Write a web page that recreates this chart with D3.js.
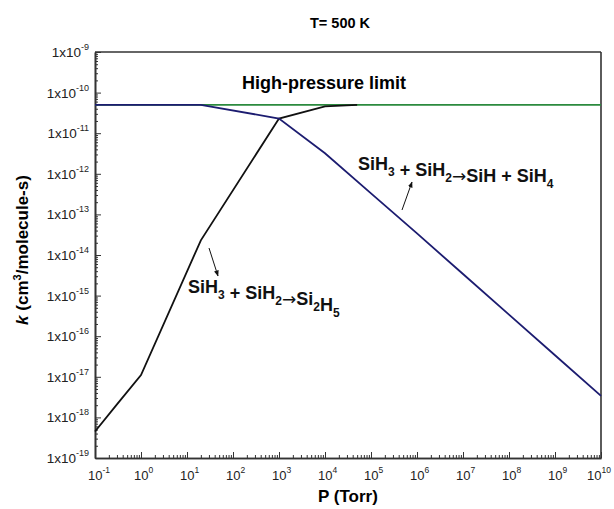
<!DOCTYPE html>
<html>
<head>
<meta charset="utf-8">
<script src="https://cdn.jsdelivr.net/npm/d3@7"></script>
<style>
  body { margin: 0; background: #fff; }
  svg { display: block; font-family: 'Liberation Sans', Arial, sans-serif; }
</style>
</head>
<body>
<svg id="chart" width="614" height="509"></svg>
<script>
// pressure (Torr) and rate constant (cm3/molecule-s)
const hpP = [1e-1, 1e10]
const hpK = [5e-11, 5e-11]

const si2h5P = [0.1, 0.3, 1, 20, 1000, 1e4, 5e4]
const si2h5K = [4.5e-19, 2.1e-18, 1.1e-17, 2.3e-14, 2.3e-11, 4.6e-11, 5e-11]

const sihP = [0.1, 20, 1000, 1e4, 1e5, 1e6, 1e7, 1e8, 1e9, 1e10]
const sihK = [5e-11, 5e-11, 2.3e-11, 3.2e-12, 3.3e-13, 3.4e-14, 3.4e-15, 3.4e-16, 3.4e-17, 3.4e-18]

const xExps = [-1, 0, 1, 2, 3, 4, 5, 6, 7, 8, 9, 10]
const yExps = [-9, -10, -11, -12, -13, -14, -15, -16, -17, -18, -19]

const svg = d3.select('#chart')
const W = 614
const pLeft = 95, pRight = 601, pTop = 52, pBottom = 458

const x = d3.scaleLog().domain([1e-1, 1e10]).range([pLeft, pRight])
const y = d3.scaleLog().domain([1e-19, 1e-9]).range([pBottom, pTop])

// minor tick values per decade
function minors(lo, hi) {
  const out = []
  for (let e = lo; e < hi; e++) for (let m = 2; m <= 9; m++) out.push(m * Math.pow(10, e))
  return out
}

const axisColor = '#333'

// bottom axis: inside ticks
const gx = svg.append('g').attr('transform', `translate(0,${pBottom})`)
gx.call(d3.axisBottom(x).tickValues(minors(-1, 10)).tickSize(-3).tickSizeOuter(0).tickFormat(''))
gx.append('g').call(d3.axisBottom(x).tickValues(xExps.map(e => Math.pow(10, e))).tickSize(-6).tickSizeOuter(0).tickFormat(''))
gx.selectAll('.domain').attr('stroke', axisColor).attr('stroke-width', 1.6)
gx.selectAll('line').attr('stroke', axisColor).attr('stroke-width', 1)

// left axis: inside ticks
const gy = svg.append('g').attr('transform', `translate(${pLeft},0)`)
gy.call(d3.axisLeft(y).tickValues(minors(-19, -9)).tickSize(-3).tickSizeOuter(0).tickFormat(''))
gy.append('g').call(d3.axisLeft(y).tickValues(yExps.map(e => Math.pow(10, e))).tickSize(-6).tickSizeOuter(0).tickFormat(''))
gy.selectAll('.domain').attr('stroke', axisColor).attr('stroke-width', 1.6)
gy.selectAll('line').attr('stroke', axisColor).attr('stroke-width', 1)

// top and right frame
svg.append('line').attr('x1', pLeft).attr('x2', pRight).attr('y1', pTop).attr('y2', pTop)
  .attr('stroke', axisColor).attr('stroke-width', 1.6)
svg.append('line').attr('x1', pRight).attr('x2', pRight).attr('y1', pTop).attr('y2', pBottom)
  .attr('stroke', axisColor).attr('stroke-width', 1.6)

// tick labels with superscripts ("10" centred on the tick, kept inside the page)
xExps.forEach(e => {
  const t = svg.append('text').attr('x', x(Math.pow(10, e)) - 7).attr('y', pBottom + 22)
    .attr('font-size', 13).attr('fill', '#222')
  t.append('tspan').text('10')
  t.append('tspan').attr('dy', -7).attr('font-size', 8.5).text(e)
  const len = t.node().getComputedTextLength()
  const x0 = +t.attr('x')
  if (x0 + len > W - 3) t.attr('x', W - 3 - len)
})
yExps.forEach(e => {
  const t = svg.append('text').attr('x', pLeft - 6).attr('y', y(Math.pow(10, e)) + 5)
    .attr('text-anchor', 'end').attr('font-size', 13.5).attr('fill', '#222')
  t.append('tspan').text('1x10')
  t.append('tspan').attr('dy', -7).attr('font-size', 9).text(e)
})

// curves
const line = d3.line().x(d => x(d[0])).y(d => y(d[1]))
const series = [
  { p: hpP, k: hpK, color: '#2b8a3e' },
  { p: si2h5P, k: si2h5K, color: '#111' },
  { p: sihP, k: sihK, color: '#1c1c70' },
]
series.forEach(s => {
  svg.append('path').datum(s.p.map((p, i) => [p, s.k[i]]))
    .attr('d', line).attr('fill', 'none')
    .attr('stroke', s.color).attr('stroke-width', 1.8)
})

// titles
svg.append('text').attr('x', 340).attr('y', 28).attr('text-anchor', 'middle')
  .attr('font-size', 14.5).attr('font-weight', 'bold').text('T= 500 K')

svg.append('text').attr('x', 348).attr('y', 502).attr('text-anchor', 'middle')
  .attr('font-size', 17).attr('font-weight', 'bold').text('P (Torr)')

const yt = svg.append('text').attr('transform', 'translate(28,250) rotate(-90)')
  .attr('text-anchor', 'middle').attr('font-size', 17).attr('font-weight', 'bold')
yt.append('tspan').attr('font-style', 'italic').text('k')
yt.append('tspan').text(' (cm')
yt.append('tspan').attr('dy', -7).attr('font-size', 11).text('3')
yt.append('tspan').attr('dy', 7).text('/molecule-s)')

svg.append('text').attr('x', 324).attr('y', 89).attr('text-anchor', 'middle')
  .attr('font-size', 18).attr('font-weight', 'bold').text('High-pressure limit')

// chemical labels: [text, subscript] pieces, '>' marks the reaction arrow
function chem(xp, yp, parts) {
  const t = svg.append('text').attr('x', xp).attr('y', yp)
    .attr('font-size', 18).attr('font-weight', 'bold').attr('fill', '#111')
  parts.forEach(([s, sub]) => {
    if (s.startsWith('>')) {
      t.append('tspan').attr('font-family', 'DejaVu Sans').attr('font-weight', 'normal')
        .attr('font-size', 17).text('\u2192')
      s = s.slice(1)
    }
    t.append('tspan').text(s)
    if (sub) {
      t.append('tspan').attr('dy', 6).attr('font-size', 12).text(sub)
      t.append('tspan').attr('dy', -6).text('')
    }
  })
}
chem(358, 170, [['SiH', '3'], [' + SiH', '2'], ['>SiH + SiH', '4']])
chem(188, 293, [['SiH', '3'], [' + SiH', '2'], ['>Si', '2'], ['H', '5']])

// arrows
svg.append('defs').append('marker').attr('id', 'ah')
  .attr('viewBox', '0 0 10 10').attr('refX', 9).attr('refY', 5)
  .attr('markerWidth', 6).attr('markerHeight', 6).attr('orient', 'auto')
  .append('path').attr('d', 'M0,1 L10,5 L0,9 Z').attr('fill', '#111')

const arrows = [
  [402, 210, 412, 182],
  [209, 248, 218, 276],
]
arrows.forEach(([x1, y1, x2, y2]) => {
  svg.append('line').attr('x1', x1).attr('y1', y1).attr('x2', x2).attr('y2', y2)
    .attr('stroke', '#111').attr('stroke-width', 1).attr('marker-end', 'url(#ah)')
})
</script>
</body>
</html>
